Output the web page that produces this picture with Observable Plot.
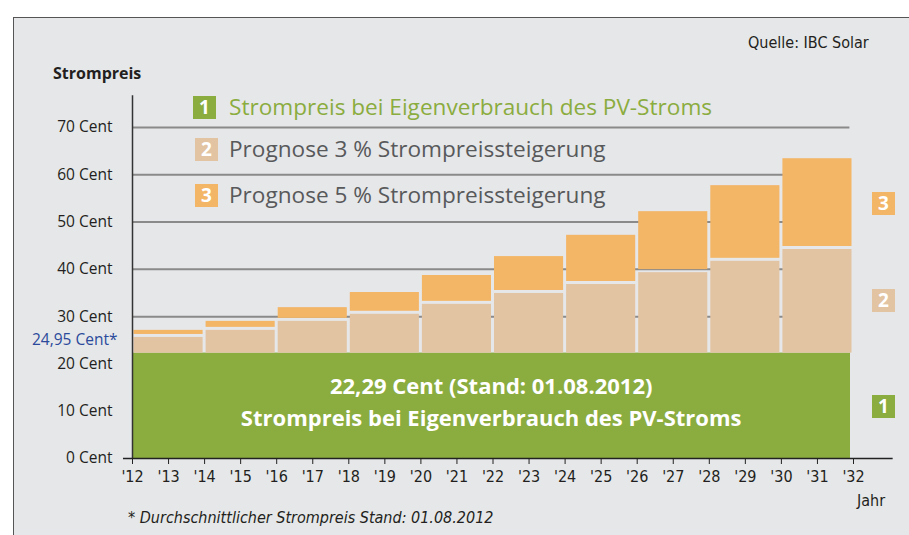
<!DOCTYPE html>
<html>
<head>
<meta charset="utf-8">
<script src="https://cdn.jsdelivr.net/npm/d3@7"></script>
<script src="https://cdn.jsdelivr.net/npm/@observablehq/plot@0.6"></script>
<style>
  html, body { margin: 0; padding: 0; background: #ffffff; }
  #wrap { position: relative; width: 909px; height: 535px; overflow: hidden; font-family: "Open Sans", sans-serif; }
  #panel { position: absolute; left: 13px; top: 17px; width: 920px; height: 540px; background: #e6e7e9; border-left: 1.5px solid #555; border-top: 1.5px solid #555; }
  .abs { position: absolute; white-space: nowrap; }
  .cond { font-family: "Liberation Sans Narrow", "DejaVu Sans Condensed", "Open Sans", sans-serif; font-stretch: condensed; }
  .sq { position: absolute; width: 23px; height: 23px; color: #fff; font-weight: 700; font-size: 19px; line-height: 23px; text-align: center; }
  .leg { position: absolute; font-size: 22.6px; line-height: 24px; white-space: nowrap; }
</style>
</head>
<body>
<div id="wrap">
  <div id="panel"></div>
  <div id="chart"></div>
</div>
<script>
// ---- data ----
const barStart = [2012, 2014, 2016, 2018, 2020, 2022, 2024, 2026, 2028, 2030];
const basePrice = 22.29;          // Strompreis bei Eigenverbrauch des PV-Stroms
const avgPrice = 24.95;           // Durchschnittlicher Strompreis
const prog3 = [25.6, 27.1, 29.0, 30.5, 32.6, 34.9, 36.8, 39.3, 41.7, 44.2];
const prog5 = [27.1, 29.0, 31.9, 35.1, 38.7, 42.7, 47.2, 52.2, 57.7, 63.4];
const yTicks = [0, 10, 20, 30, 40, 50, 60, 70];
const gridTicks = [30, 40, 50, 60, 70];
const xTicks = d3.range(2012, 2033);
const legendLabels = ["Strompreis bei Eigenverbrauch des PV-Stroms", "Prognose 3 % Strompreissteigerung", "Prognose 5 % Strompreissteigerung"];
const greenLabels = ["22,29 Cent (Stand: 01.08.2012)", "Strompreis bei Eigenverbrauch des PV-Stroms"];

const GREEN = "#8bac3e", BEIGE = "#e3c4a2", ORANGE = "#f3b566", BG = "#e6e7e9";

const bars = barStart.map((s, i) => ({start: s, end: s + 2, p3: prog3[i], p5: prog5[i]}));

const plot = Plot.plot({
  width: 909,
  height: 535,
  marginLeft: 132,
  marginRight: 56,
  marginTop: 127,
  marginBottom: 77,
  style: {background: "transparent", position: "absolute", left: "0px", top: "0px", overflow: "visible", fontFamily: "'Open Sans', sans-serif"},
  x: {domain: [2012, 2032]},
  y: {domain: [0, 70]},
  marks: [
    Plot.ruleY(gridTicks, {y: d => d, x1: 2012, x2: 2031.9, stroke: "#8a8a8a", strokeWidth: 2}),
    Plot.rect([basePrice], {x1: 2012, x2: 2032, y1: 0, y2: d => d, fill: GREEN, insetRight: 3}),
    Plot.rect(bars, {x1: "start", x2: "end", y1: basePrice, y2: "p3", fill: BEIGE, insetLeft: 1.5, insetRight: 1.5}),
    Plot.rect(bars, {x1: "start", x2: "end", y1: "p3", y2: "p5", fill: ORANGE, insetLeft: 1.5, insetRight: 1.5, insetBottom: 3}),
    Plot.ruleX([2012], {y1: 0, y2: 76.7, stroke: "#333", strokeWidth: 1.5}),
    Plot.ruleY([0], {x1: 2011.75, x2: 2033.1, stroke: "#222", strokeWidth: 1.5}),
    Plot.axisY({ticks: yTicks, tickFormat: d => d + " Cent", tickSize: 0, tickPadding: 20, fontSize: 15.5, fill: "#231f20"}),
    Plot.axisX({ticks: xTicks, tickFormat: d => "'" + String(d).slice(2), tickSize: 6, tickPadding: 6, fontSize: 16, stroke: "#222", fill: "#231f20", fontFamily: "'Liberation Sans Narrow', 'DejaVu Sans Condensed', 'Open Sans', sans-serif"}),
    Plot.text([avgPrice], {x: 2012, y: d => d, text: d => "24,95 Cent*", dx: -15, textAnchor: "end", fill: "#2b4a9b", fontSize: 15.5}),
    Plot.text(greenLabels, {x: 2021.95, y: (d, i) => [15.2, 8.4][i], text: d => d, fill: "#fff", fontWeight: "bold", fontSize: 22})
  ]
});
document.getElementById("chart").appendChild(plot);

// ---- static texts (HTML) ----
const wrap = document.getElementById("wrap");
function add(html, css, cls) {
  const el = document.createElement("div");
  el.className = cls || "abs";
  el.innerHTML = html;
  Object.assign(el.style, css);
  wrap.appendChild(el);
  return el;
}
add("Strompreis", {left: "53px", top: "62px", fontSize: "16px", fontWeight: "700", color: "#231f20"});
add("Quelle: IBC Solar", {left: "748px", top: "33px", fontSize: "16px", color: "#231f20"}, "abs cond");
add("Jahr", {left: "857px", top: "491px", fontSize: "16px", color: "#231f20"}, "abs cond");
add("* Durchschnittlicher Strompreis Stand: 01.08.2012", {left: "128px", top: "508px", fontSize: "16px", fontStyle: "italic", color: "#231f20"}, "abs cond");

const legColors = [GREEN, BEIGE, ORANGE];
const legTextColors = ["#8bac3e", "#58595b", "#58595b"];
const legY = [96, 138, 184];
const legSqX = [193, 195, 195];
legendLabels.forEach((t, i) => {
  add(String(i + 1), {left: legSqX[i] + "px", top: legY[i] + "px", background: legColors[i]}, "sq");
  add(t, {left: "229px", top: (legY[i] - 1) + "px", color: legTextColors[i]}, "leg");
});
// right-side markers
const rightY = [395, 289, 192];
rightY.forEach((y, i) => add(String(i + 1), {left: "872px", top: y + "px", background: legColors[i]}, "sq"));
</script>
</body>
</html>
